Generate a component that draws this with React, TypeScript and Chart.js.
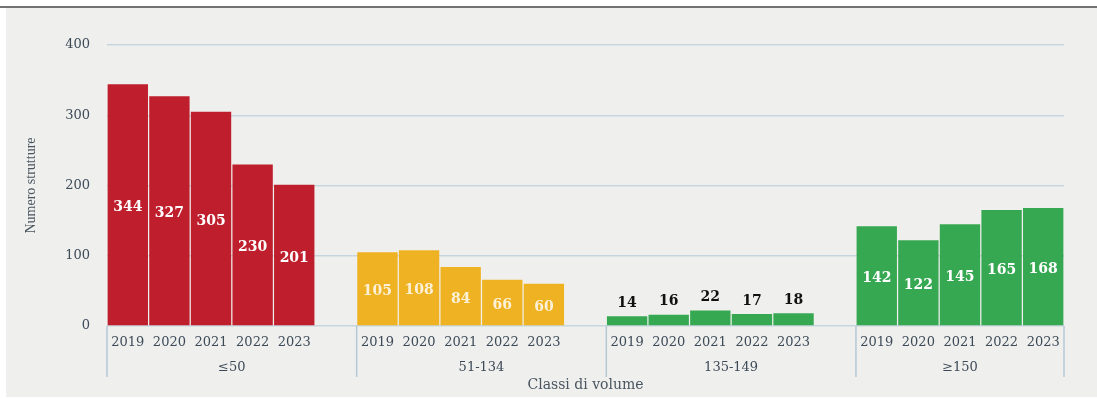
import React, { useEffect, useRef } from "react";
import { Chart, registerables } from "chart.js";

Chart.register(...registerables);

const years = ["2019", "2020", "2021", "2022", "2023"];
const groupNames = ["≤50", "51-134", "135-149", "≥150"];
const valuesLe50 = [344, 327, 305, 230, 201];
const values51_134 = [105, 108, 84, 66, 60];
const values135_149 = [14, 16, 22, 17, 18];
const valuesGe150 = [142, 122, 145, 165, 168];
const groupValues = [valuesLe50, values51_134, values135_149, valuesGe150];
const groupBarColors = ["#bf1f2d", "#efb223", "#37a852", "#37a852"];
const labelInside = [true, true, false, true];
const labelColors = ["#ffffff", "rgba(255,255,255,0.82)", "#111111", "#ffffff"];
const yTicks = [0, 100, 200, 300, 400];

const FONT = "'DejaVu Serif', serif";
const TEXT = "#3d4a58";

export default function App() {
  const ref = useRef<HTMLCanvasElement | null>(null);

  useEffect(() => {
    const labels: string[] = [];
    const data: (number | null)[] = [];
    const colors: string[] = [];
    const slotGroup: number[] = [];
    groupValues.forEach((vals, g) => {
      vals.forEach((v, i) => {
        labels.push(years[i]);
        data.push(v);
        colors.push(groupBarColors[g]);
        slotGroup.push(g);
      });
      if (g < groupValues.length - 1) {
        labels.push("");
        data.push(null);
        colors.push("rgba(0,0,0,0)");
        slotGroup.push(-1);
      }
    });

    const bgPlugin = {
      id: "bg",
      beforeDraw(chart: any) {
        const { ctx, width, height } = chart;
        ctx.save();
        ctx.fillStyle = "#ffffff";
        ctx.fillRect(0, 0, width, height);
        ctx.fillStyle = "#eff0ed";
        ctx.fillRect(6, 8, width - 6, 389);
        ctx.fillStyle = "#727272";
        ctx.fillRect(0, 6, width, 2);
        ctx.restore();
      },
    };

    const decoPlugin = {
      id: "deco",
      afterDraw(chart: any) {
        const { ctx, chartArea } = chart;
        const x = chart.scales.x;
        const meta = chart.getDatasetMeta(0);
        ctx.save();
        const slot = (chartArea.right - chartArea.left) / labels.length;
        const seps: number[] = [];
        let idx = 0;
        groupValues.forEach((vals) => {
          seps.push(x.getPixelForValue(idx) - slot / 2);
          idx += vals.length + 1;
        });
        seps.push(chartArea.right);
        ctx.strokeStyle = "#b5c8d6";
        ctx.lineWidth = 1.5;
        seps.forEach((sx) => {
          ctx.beginPath();
          ctx.moveTo(sx, chartArea.bottom);
          ctx.lineTo(sx, 377);
          ctx.stroke();
        });
        ctx.fillStyle = TEXT;
        ctx.font = `13px ${FONT}`;
        ctx.textAlign = "center";
        ctx.textBaseline = "middle";
        groupNames.forEach((name, g) => {
          ctx.fillText(name, (seps[g] + seps[g + 1]) / 2, 368);
        });
        ctx.font = `bold 14px ${FONT}`;
        meta.data.forEach((el: any, i: number) => {
          const v = data[i];
          if (v === null) return;
          const g = slotGroup[i];
          ctx.fillStyle = labelColors[g];
          if (labelInside[g]) {
            ctx.fillText(String(v), el.x, (el.y + el.base) / 2 + 3);
          } else {
            ctx.fillText(String(v), el.x, el.y - 13);
          }
        });
        ctx.restore();
      },
    };

    const chart = new Chart(ref.current as HTMLCanvasElement, {
      type: "bar",
      data: {
        labels,
        datasets: [
          {
            data,
            backgroundColor: colors,
            borderWidth: 0,
            barPercentage: 0.97,
            categoryPercentage: 1,
          },
        ],
      },
      options: {
        responsive: false,
        animation: false,
        devicePixelRatio: 1,
        layout: { padding: { left: 0, right: 33, top: 45, bottom: 0 } },
        plugins: { legend: { display: false }, tooltip: { enabled: false } },
        scales: {
          x: {
            grid: { display: false, drawTicks: false },
            border: { display: false },
            ticks: {
              autoSkip: false,
              maxRotation: 0,
              padding: 9,
              color: TEXT,
              font: { family: FONT, size: 13 },
            },
            title: {
              display: true,
              text: "Classi di volume",
              color: "#4a5560",
              font: { family: FONT, size: 14 },
              padding: { top: 0, bottom: 4 },
            },
            afterFit(scale: any) {
              scale.height = 72;
            },
          },
          y: {
            min: 0,
            max: 400,
            afterBuildTicks(scale: any) {
              scale.ticks = yTicks.map((v) => ({ value: v }));
            },
            grid: { color: "#c7d5de", lineWidth: 1.5, drawTicks: false },
            border: { display: false },
            ticks: {
              padding: 17,
              color: TEXT,
              font: { family: FONT, size: 13 },
            },
            title: {
              display: true,
              text: "Numero strutture",
              color: "#4a5560",
              font: { family: "'Liberation Serif', serif", size: 14 },
              padding: { top: 23, bottom: 0 },
            },
            afterFit(scale: any) {
              scale.width = 107;
            },
          },
        },
      },
      plugins: [bgPlugin, decoPlugin],
    } as any);
    return () => chart.destroy();
  }, []);

  return (
    <div style={{ position: "absolute", left: 0, top: 0, width: 1097, height: 398, background: "#fff" }}>
      <canvas ref={ref} width={1097} height={398} style={{ display: "block", width: 1097, height: 398 }} />
    </div>
  );
}
